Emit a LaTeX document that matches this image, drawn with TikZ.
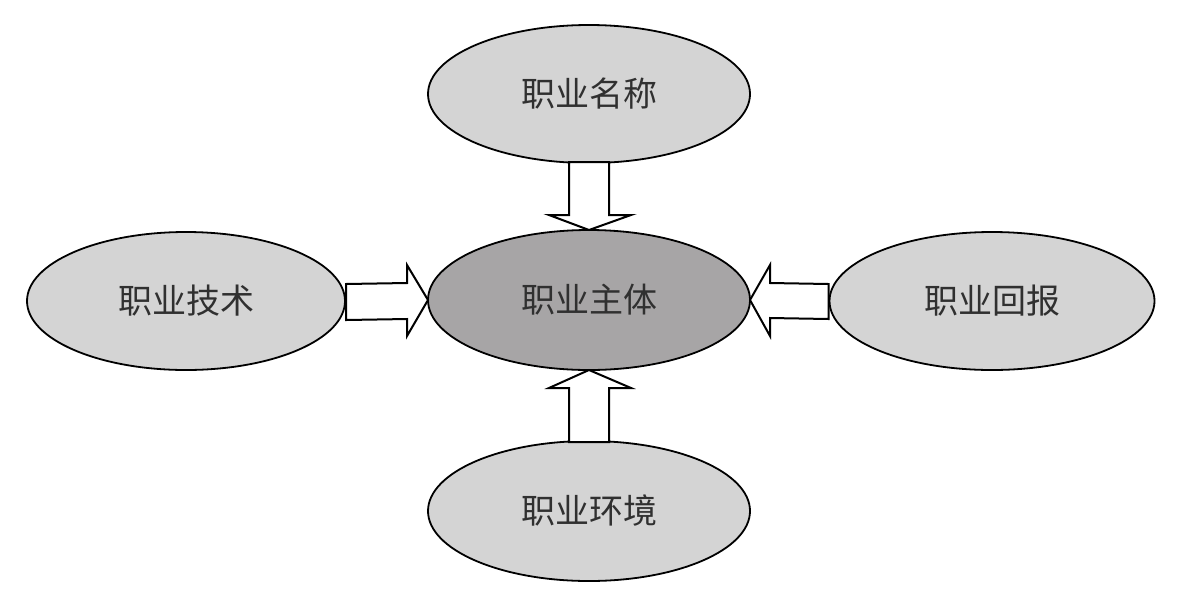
\documentclass[tikz,border=0pt]{standalone}
\usepackage{fontspec}
\newfontfamily\cjk{Noto Sans CJK SC}
\usetikzlibrary{shapes.geometric,calc}
\definecolor{outerfill}{HTML}{D4D4D4}
\definecolor{innerfill}{HTML}{A7A5A6}
\definecolor{txt}{HTML}{303030}
\tikzset{
  oval/.style={ellipse, draw=black, line width=1.8pt, fill=outerfill, inner sep=0pt, outer sep=0pt,
    minimum width=322pt, minimum height=138pt, text=txt, font=\cjk\fontsize{34}{40}\selectfont},
  coreoval/.style={oval, fill=innerfill},
  blockarrow/.style={draw=black, fill=white, line width=2pt, line join=miter}
}
\begin{document}
\begin{tikzpicture}[x=1pt,y=-1pt]
\useasboundingbox (0,0) rectangle (1180,598);
\node[oval] (nt) at (589,94) {职业名称};
\node[coreoval, minimum height=140pt] (nm) at (589,300) {职业主体};
\node[oval, minimum width=318pt] (nl) at (186,301) {职业技术};
\node[oval, minimum width=325pt] (nr) at (992,301) {职业回报};
\node[oval, minimum height=140pt] (nb) at (589,511) {职业环境};
% top arrow
\draw[blockarrow] ($(nt.south)+(-20,-1)$) -- ($(nm.north)+(-20,-15)$) -- ($(nm.north)+(-40,-15)$) -- (nm.north)
  -- ($(nm.north)+(42,-15)$) -- ($(nm.north)+(20,-15)$) -- ($(nt.south)+(20,-1)$) -- cycle;
% bottom arrow
\draw[blockarrow] ($(nb.north)+(-20,1)$) -- ($(nm.south)+(-20,18)$) -- ($(nm.south)+(-40,18)$) -- (nm.south)
  -- ($(nm.south)+(42,18)$) -- ($(nm.south)+(20,18)$) -- ($(nb.north)+(20,1)$) -- cycle;
% left arrow
\draw[blockarrow] ($(nl.east)+(1,-17)$) -- ($(nm.west)+(-21,-17)$) -- ($(nm.west)+(-21,-35)$) -- (nm.west)
  -- ($(nm.west)+(-21,36)$) -- ($(nm.west)+(-21,19)$) -- ($(nl.east)+(1,19)$) -- cycle;
% right arrow
\draw[blockarrow] ($(nr.west)+(-1,-17)$) -- ($(nm.east)+(20,-17)$) -- ($(nm.east)+(20,-35)$) -- (nm.east)
  -- ($(nm.east)+(20,36)$) -- ($(nm.east)+(20,18)$) -- ($(nr.west)+(-1,18)$) -- cycle;
\end{tikzpicture}
\end{document}
